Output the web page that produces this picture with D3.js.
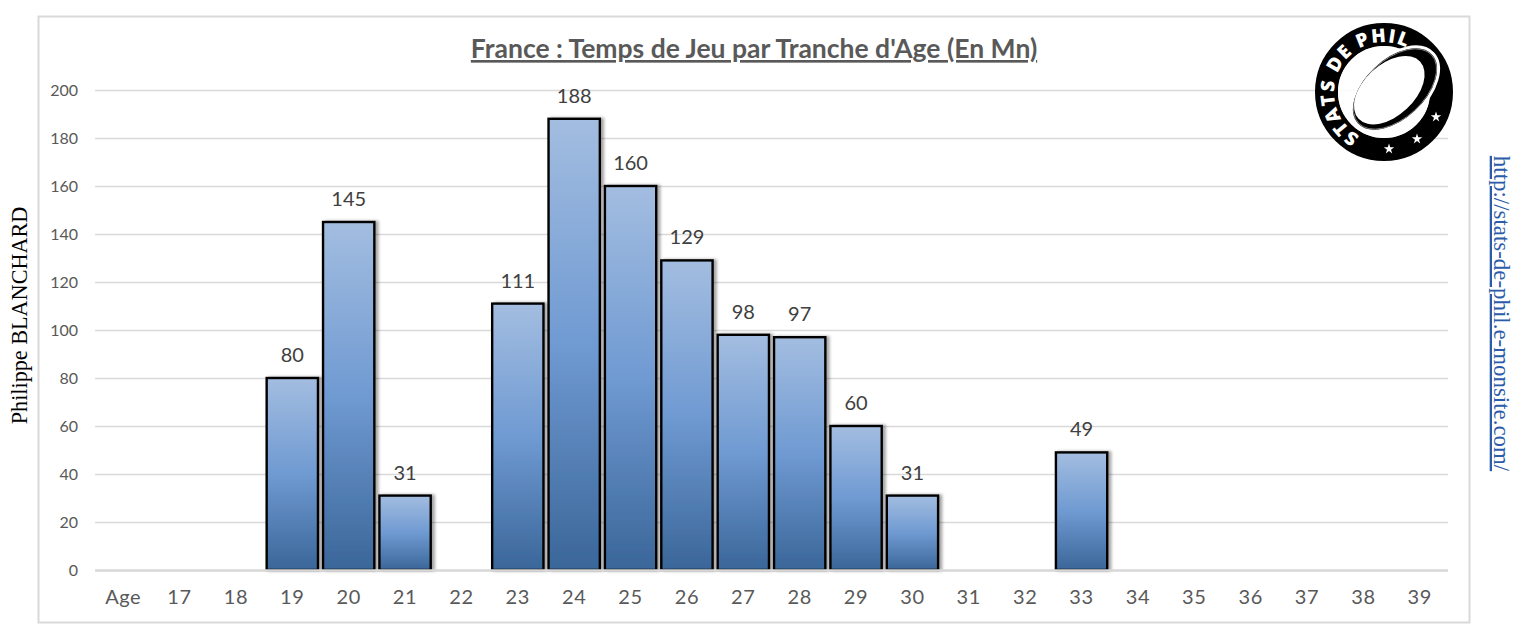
<!DOCTYPE html>
<html>
<head>
<meta charset="utf-8">
<script src="https://cdn.jsdelivr.net/npm/d3@7"></script>
<style>
  html, body { margin: 0; padding: 0; background: #fff; }
  svg { display: block; }
  text { font-family: Lato, "Open Sans", sans-serif; }
</style>
</head>
<body>
<script>
const categories = ["Age", "17", "18", "19", "20", "21", "22", "23", "24", "25", "26", "27", "28", "29", "30", "31", "32", "33", "34", "35", "36", "37", "38", "39"];
const minutes = [null, null, null, 80, 145, 31, null, 111, 188, 160, 129, 98, 97, 60, 31, null, null, 49, null, null, null, null, null, null];
const yTicks = [0, 20, 40, 60, 80, 100, 120, 140, 160, 180, 200];
const chartTitle = "France : Temps de Jeu par Tranche d'Age (En Mn)";
const authorName = "Philippe BLANCHARD";
const siteUrl = "http://stats-de-phil.e-monsite.com/";
const logoText = "STATS DE PHIL";

const width = 1522, height = 640;
const plot = { left: 95, right: 1448, top: 90, bottom: 570 };

const svg = d3.select("body").append("svg").attr("width", width).attr("height", height);
const defs = svg.append("defs");

// Bar fill, same three stops on every bar
const grad = defs.append("linearGradient").attr("id", "barFill")
  .attr("x1", 0).attr("y1", 0).attr("x2", 0).attr("y2", 1);
grad.append("stop").attr("offset", "0%").attr("stop-color", "#a3bde0");
grad.append("stop").attr("offset", "50%").attr("stop-color", "#6f9ad2");
grad.append("stop").attr("offset", "100%").attr("stop-color", "#3a6699");

const shadow = defs.append("filter").attr("id", "barShadow")
  .attr("x", "-10%").attr("y", "-5%").attr("width", "125%").attr("height", "110%");
shadow.append("feDropShadow").attr("dx", 3).attr("dy", 0).attr("stdDeviation", 1.5)
  .attr("flood-color", "#000").attr("flood-opacity", 0.35);

// Outer frame
svg.append("rect").attr("x", 38.5).attr("y", 16.5).attr("width", 1431).attr("height", 606)
  .attr("fill", "#fff").attr("stroke", "#d9d9d9").attr("stroke-width", 2);

const x = d3.scaleBand().domain(categories).range([plot.left, plot.right]).paddingInner(0.09).paddingOuter(0.045);
const y = d3.scaleLinear().domain([0, 200]).range([plot.bottom, plot.top]);

// Y axis with the gridlines as ticks
const yAxis = svg.append("g").attr("transform", `translate(${plot.left},0)`)
  .call(d3.axisLeft(y).tickValues(yTicks).tickSize(-(plot.right - plot.left)).tickPadding(17));
yAxis.select(".domain").remove();
yAxis.selectAll("line").attr("stroke", "#d9d9d9").attr("stroke-width", 1.6);
yAxis.selectAll("text").attr("fill", "#595959").style("font-size", "16px").style("font-family", "Lato");

// X axis labels
const xAxis = svg.append("g").attr("transform", `translate(0,${plot.bottom})`)
  .call(d3.axisBottom(x).tickSize(0).tickPadding(20));
xAxis.select(".domain").remove();
xAxis.selectAll("text").attr("fill", "#595959").style("font-size", "20px").style("font-family", "Lato").style("letter-spacing", "0.6px");

const rows = categories.map((c, i) => ({ age: c, value: minutes[i] })).filter(d => d.value !== null);

svg.append("g").selectAll("rect").data(rows).join("rect")
  .attr("x", d => x(d.age))
  .attr("y", d => y(d.value))
  .attr("width", x.bandwidth())
  .attr("height", d => y(0) - y(d.value))
  .attr("fill", "url(#barFill)")
  .attr("stroke", "#000")
  .attr("stroke-width", 2.4)
  .attr("filter", "url(#barShadow)");

// Baseline goes over the bars, it hides their bottom border
svg.append("line").attr("x1", plot.left).attr("x2", plot.right).attr("y1", y(0) + 0.5).attr("y2", y(0) + 0.5)
  .attr("stroke", "#d9d9d9").attr("stroke-width", 2.4);

svg.append("g").selectAll("text").data(rows).join("text")
  .attr("x", d => x(d.age) + x.bandwidth() / 2)
  .attr("y", d => y(d.value) - 16)
  .attr("text-anchor", "middle")
  .attr("fill", "#404040")
  .style("font-size", "20px")
  .text(d => d.value);

// Title
svg.append("text").attr("x", 754).attr("y", 58).attr("text-anchor", "middle")
  .attr("fill", "#595959").attr("text-decoration", "underline")
  .style("font-size", "26.5px").style("font-weight", 700)
  .text(chartTitle);

// Side texts
svg.append("text").attr("transform", "translate(27,315.5) rotate(-90)").attr("text-anchor", "middle")
  .attr("fill", "#000").style("font-family", "'Liberation Serif'").style("font-size", "22.2px")
  .text(authorName);
svg.append("text").attr("transform", "translate(1494,313.5) rotate(90)").attr("text-anchor", "middle")
  .attr("fill", "#2a5caa").attr("text-decoration", "underline")
  .style("font-family", "'Liberation Serif'").style("font-size", "22.9px")
  .text(siteUrl);

// Logo: the ring has a hole, so the gridlines show through
const logo = svg.append("g").attr("transform", "translate(1384,92)");
logo.append("circle").attr("r", 57.5).attr("fill", "none").attr("stroke", "#000").attr("stroke-width", 23);
logo.append("circle").attr("r", 46).attr("fill", "#fff").attr("fill-opacity", 0.85);
defs.append("path").attr("id", "logoArc").attr("d", "M -24 44 A 50 50 0 1 1 44.5 23");
logo.append("text").append("textPath").attr("href", "#logoArc")
  .attr("fill", "#fff").style("font-family", "'Open Sans'").style("font-weight", 800)
  .style("font-size", "19px").style("letter-spacing", "1.5px").text(logoText);

// Ball: black body with double outline, white panel inside it
const ball = logo.append("g").attr("transform", "translate(11,-3) rotate(-43)");
ball.append("ellipse").attr("rx", 52).attr("ry", 31).attr("fill", "#000");
ball.append("ellipse").attr("rx", 52).attr("ry", 31).attr("fill", "none").attr("stroke", "#fff").attr("stroke-width", 3);
ball.append("ellipse").attr("rx", 50).attr("ry", 29).attr("fill", "none").attr("stroke", "#888").attr("stroke-width", 0.9);
ball.append("ellipse").attr("cx", -5).attr("cy", -3).attr("rx", 42).attr("ry", 25.5).attr("fill", "#fff");

// Stars on the ring
const starPos = [[52, 25], [33, 47], [5, 57]];
const starShape = d3.symbol().type(d3.symbolStar).size(34);
logo.selectAll("path.star").data(starPos).join("path").attr("class", "star")
  .attr("d", starShape).attr("fill", "#fff")
  .attr("transform", d => `translate(${d[0]},${d[1]})`);
</script>
</body>
</html>
